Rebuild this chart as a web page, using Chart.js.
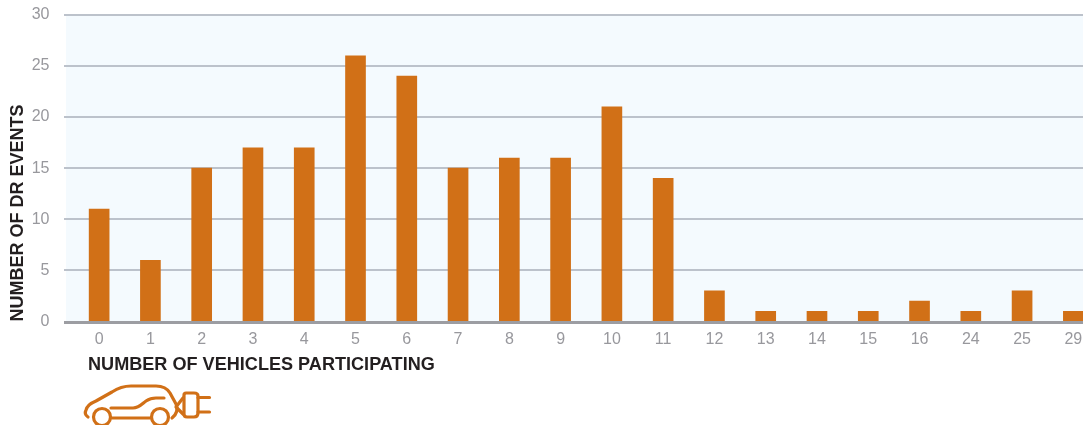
<!DOCTYPE html>
<html>
<head>
<meta charset="utf-8">
<title>DR events by vehicles participating</title>
<script src="https://cdn.jsdelivr.net/npm/chart.js@4"></script>
<style>
  html, body { margin: 0; padding: 0; background: #fff; overflow: hidden; }
  #wrap { position: relative; width: 1083px; height: 425px; overflow: hidden; }
  #chart { position: absolute; left: 0; top: 0; }
  #xTitle {
    position: absolute; left: 88px; top: 354px;
    font: bold 18.1px "Liberation Sans", sans-serif; color: #231f20;
    white-space: nowrap;
  }
  #car { position: absolute; left: 80px; top: 380px; }
</style>
</head>
<body>
<div id="wrap">
  <canvas id="chart" width="1110" height="425"></canvas>
  <div id="xTitle">NUMBER OF VEHICLES PARTICIPATING</div>
  <svg id="car" width="140" height="45" viewBox="80 380 140 45" fill="none" stroke="#d17017" stroke-width="3.2" stroke-linecap="round" stroke-linejoin="round">
    <path d="M88 417 C85 415 85 412 86 410 C87 406 91 403 96 401 L112 392 C118 388 123 386 131 386 L156 386 C163 386 167 388 170 393 L176 404 C178 409 177 414 172 418"/>
    <path d="M111 408 L133 408 C139 408 142 404 146 401 C149 399 152 398 156 398 L164 398"/>
    <circle cx="102" cy="417" r="8.5"/>
    <circle cx="160" cy="417" r="8.5"/>
    <path d="M112 418 L150 418"/>
    <path d="M176 407 L183 398 M176 407 L183 414"/>
    <path d="M186 393 L194 393 Q198 393 198 396 L198 413 Q198 417 194 417 L187 417 Q184 417 184 414 L184 395 Q184 393 186 393 Z"/>
    <path d="M198 397.5 L209.5 397.5 M198 412 L209.5 412"/>
  </svg>
</div>
<script>
const categories = ['0','1','2','3','4','5','6','7','8','9','10','11','12','13','14','15','16','24','25','29'];
const eventCounts = [11,6,15,17,17,26,24,15,16,16,21,14,3,1,1,1,2,1,3,1];
const yTicks = [0,5,10,15,20,25,30];

const ORANGE = '#d17017';
const GREY_TEXT = '#98989d';

// pale panel behind the bars, plus the heavier zero line on top of them
const panelBg = {
  id: 'panelBg',
  beforeDraw(chart) {
    const { ctx, chartArea: a } = chart;
    ctx.save();
    ctx.fillStyle = '#f4fafe';
    ctx.fillRect(66, a.top, a.right - 66, a.bottom - a.top);
    ctx.restore();
  },
  afterDatasetsDraw(chart) {
    const { ctx, chartArea: a, scales } = chart;
    const y0 = Math.round(scales.y.getPixelForValue(0));
    ctx.save();
    ctx.fillStyle = '#9c9da2';
    ctx.fillRect(64, y0 - 1, a.right - 64, 3);
    ctx.restore();
  }
};

new Chart(document.getElementById('chart'), {
  type: 'bar',
  plugins: [panelBg],
  data: {
    labels: categories,
    datasets: [{
      label: 'Number of DR events',
      data: eventCounts,
      backgroundColor: ORANGE,
      barThickness: 20
    }]
  },
  options: {
    responsive: false,
    animation: false,
    devicePixelRatio: 1,
    layout: { padding: { top: 14.8, right: 11, bottom: 0, left: 1.5 } },
    plugins: { legend: { display: false }, tooltip: { enabled: false } },
    scales: {
      x: {
        offset: true,
        afterFit(s) { s.height = 103.4; },
        grid: { display: false },
        border: { display: false },
        ticks: {
          color: GREY_TEXT, font: { family: 'Liberation Sans', size: 16 },
          padding: 0, maxRotation: 0, autoSkip: false
        }
      },
      y: {
        min: 0, max: 30,
        afterFit(s) { s.width = 72; s.paddingTop = 0; s.paddingBottom = 0; },
        afterBuildTicks(s) { s.ticks = yTicks.map(v => ({ value: v })); },
        grid: {
          drawTicks: true, tickLength: 9.5, lineWidth: 2,
          color: c => c.tick && c.tick.value === 0 ? 'transparent' : '#bcc2cb'
        },
        border: { display: false },
        ticks: {
          color: GREY_TEXT, font: { family: 'Liberation Sans', size: 16 }, padding: 14.5
        },
        title: {
          display: true, text: 'NUMBER OF DR EVENTS', color: '#231f20', align: 'start',
          font: { family: 'Liberation Sans', size: 18, weight: 'bold' },
          padding: { top: 5.5, bottom: 0 }
        }
      }
    }
  }
});
</script>
</body>
</html>
